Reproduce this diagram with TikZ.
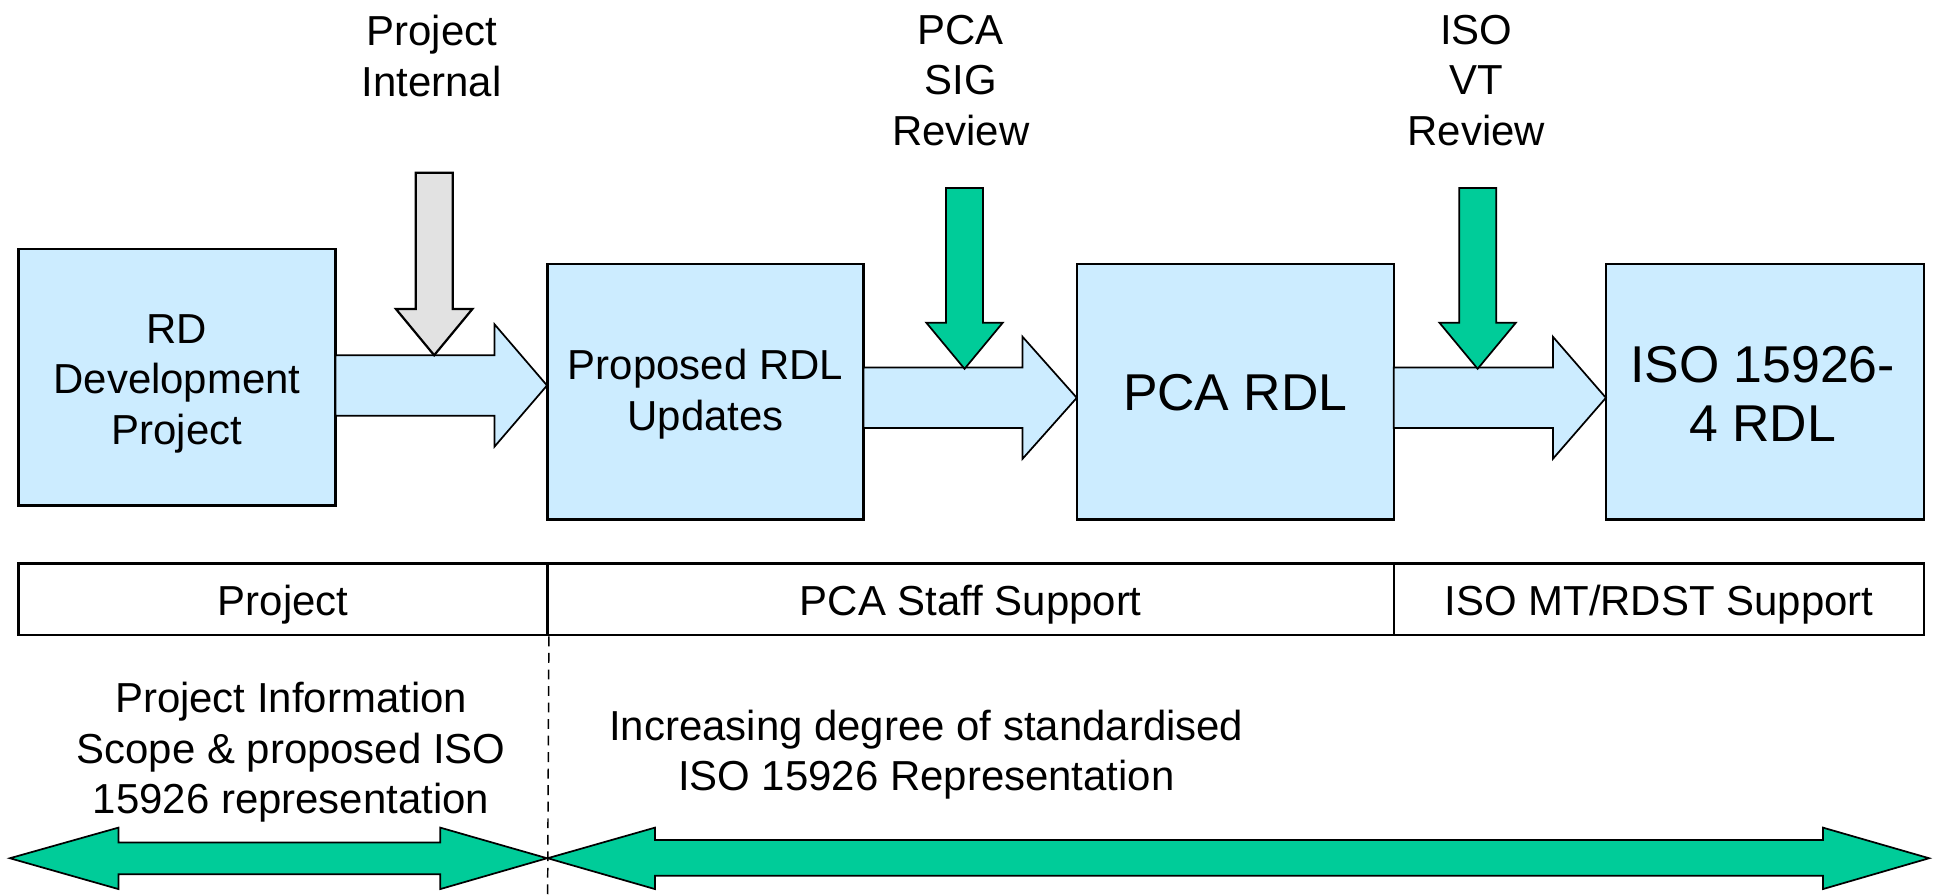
\documentclass[tikz,border=0pt]{standalone}
\usepackage{fontspec}
\setmainfont{Liberation Sans}
\definecolor{boxblue}{RGB}{204,236,255}
\definecolor{revgreen}{RGB}{0,204,153}
\definecolor{greyfill}{RGB}{226,226,226}
\begin{document}
\begin{tikzpicture}[x=0.5pt,y=-0.5pt,
  font=\fontsize{17}{20.5}\selectfont,
  box/.style={draw=black, line width=1pt, fill=boxblue, inner sep=0pt},
  cell/.style={draw=black, line width=1pt, inner sep=0pt, minimum height=29pt},
  blockarrow/.style={draw=black, line width=0.7pt, fill=boxblue, line join=miter},
  greenarrow/.style={draw=black, line width=0.7pt, fill=revgreen, line join=miter},
  grayarrow/.style={draw=black, line width=0.9pt, fill=greyfill, line join=miter},
  lbl/.style={align=center, inner sep=0pt},
  big/.style={font=\fontsize{21}{24}\selectfont},
  divider/.style={draw=black, line width=0.6pt, dash pattern=on 4pt off 2.7pt}]
\useasboundingbox (0,0) rectangle (1568,725);

% main boxes
\node[box, minimum width=128.5pt, minimum height=104pt] (rd) at (143.5,306) {};
\node[box, minimum width=128pt, minimum height=103.5pt] (prop) at (572,317.5) {};
\node[box, minimum width=128.5pt, minimum height=103.5pt] (pca) at (1001.5,317.5) {};
\node[box, minimum width=129pt, minimum height=103.5pt] (iso) at (1431,317.5) {};
\node[lbl] (rdtxt) at ([yshift=-2.5pt]rd.center) {RD\\Development\\Project};
\node[lbl] (proptxt) at ([yshift=-1pt]prop.center) {Proposed RDL\\Updates};
\node[lbl, big] (pcatxt) at ([yshift=-0.5pt]pca.center) {PCA RDL};
\node[lbl, big] (isotxt) at ([yshift=-1pt,xshift=-1pt]iso.center) {ISO 15926-\\4 RDL};

% block arrows between boxes
\draw[blockarrow] (272,288)--(401,288)--(401,263)--(443.5,312.5)--(401,362)--(401,337)--(272,337)--cycle;
\draw[blockarrow] (700,298)--(829,298)--(829,273)--(873,322.5)--(829,372)--(829,347)--(700,347)--cycle;
\draw[blockarrow] (1130,298)--(1259,298)--(1259,273)--(1302,322.5)--(1259,372)--(1259,347)--(1130,347)--cycle;

% top labels
\node[lbl] (lint) at (350,45.5) {Project\\Internal};
\node[lbl] (lpca) at (779,65) {PCA\\SIG\\Review};
\node[lbl] (liso) at (1197,65) {ISO\\VT\\Review};

% down arrows
\draw[grayarrow] (337,140)--(367,140)--(367,250.5)--(383,250.5)--(352,288)--(321,250.5)--(337,250.5)--cycle;
\draw[greenarrow] (767,152.5)--(797,152.5)--(797,261.6)--(813,261.6)--(782,299)--(751,261.6)--(767,261.6)--cycle;
\draw[greenarrow] (1183,152.5)--(1213,152.5)--(1213,261.6)--(1229,261.6)--(1198,299)--(1167,261.6)--(1183,261.6)--cycle;

% support band
\node[cell, minimum width=214.5pt] (c1) at (229.5,486) {};
\node[cell, minimum width=343pt] (c2) at (787,486) {};
\node[cell, minimum width=215pt] (c3) at (1345,486) {};
\node[lbl] (c1txt) at ([yshift=-2pt]c1.center) {Project};
\node[lbl] (c2txt) at ([yshift=-2pt]c2.center) {PCA Staff Support};
\node[lbl] (c3txt) at ([yshift=-2pt]c3.center) {ISO MT/RDST Support};

% dashed divider
\coordinate (dashend) at (444,725);
\draw[divider] (c1.south east) -- (dashend);

% bottom texts
\node[lbl] (pinfo) at (236,610) {Project Information\\Scope \& proposed ISO\\15926 representation};
\node[lbl] (incr) at (751,612) {Increasing degree of standardised\\ISO 15926 Representation};

% double arrows
\draw[greenarrow] (8,695.8)--(96,671)--(96,683)--(357,683)--(357,671)--(443.5,695.8)--(357,720.8)--(357,708.7)--(96,708.7)--(96,720.8)--cycle;
\draw[greenarrow] (444,695.8)--(531,671)--(531,681)--(1478,681)--(1478,671)--(1564,695.8)--(1478,720.8)--(1478,710)--(531,710)--(531,720.8)--cycle;
\end{tikzpicture}
\end{document}
